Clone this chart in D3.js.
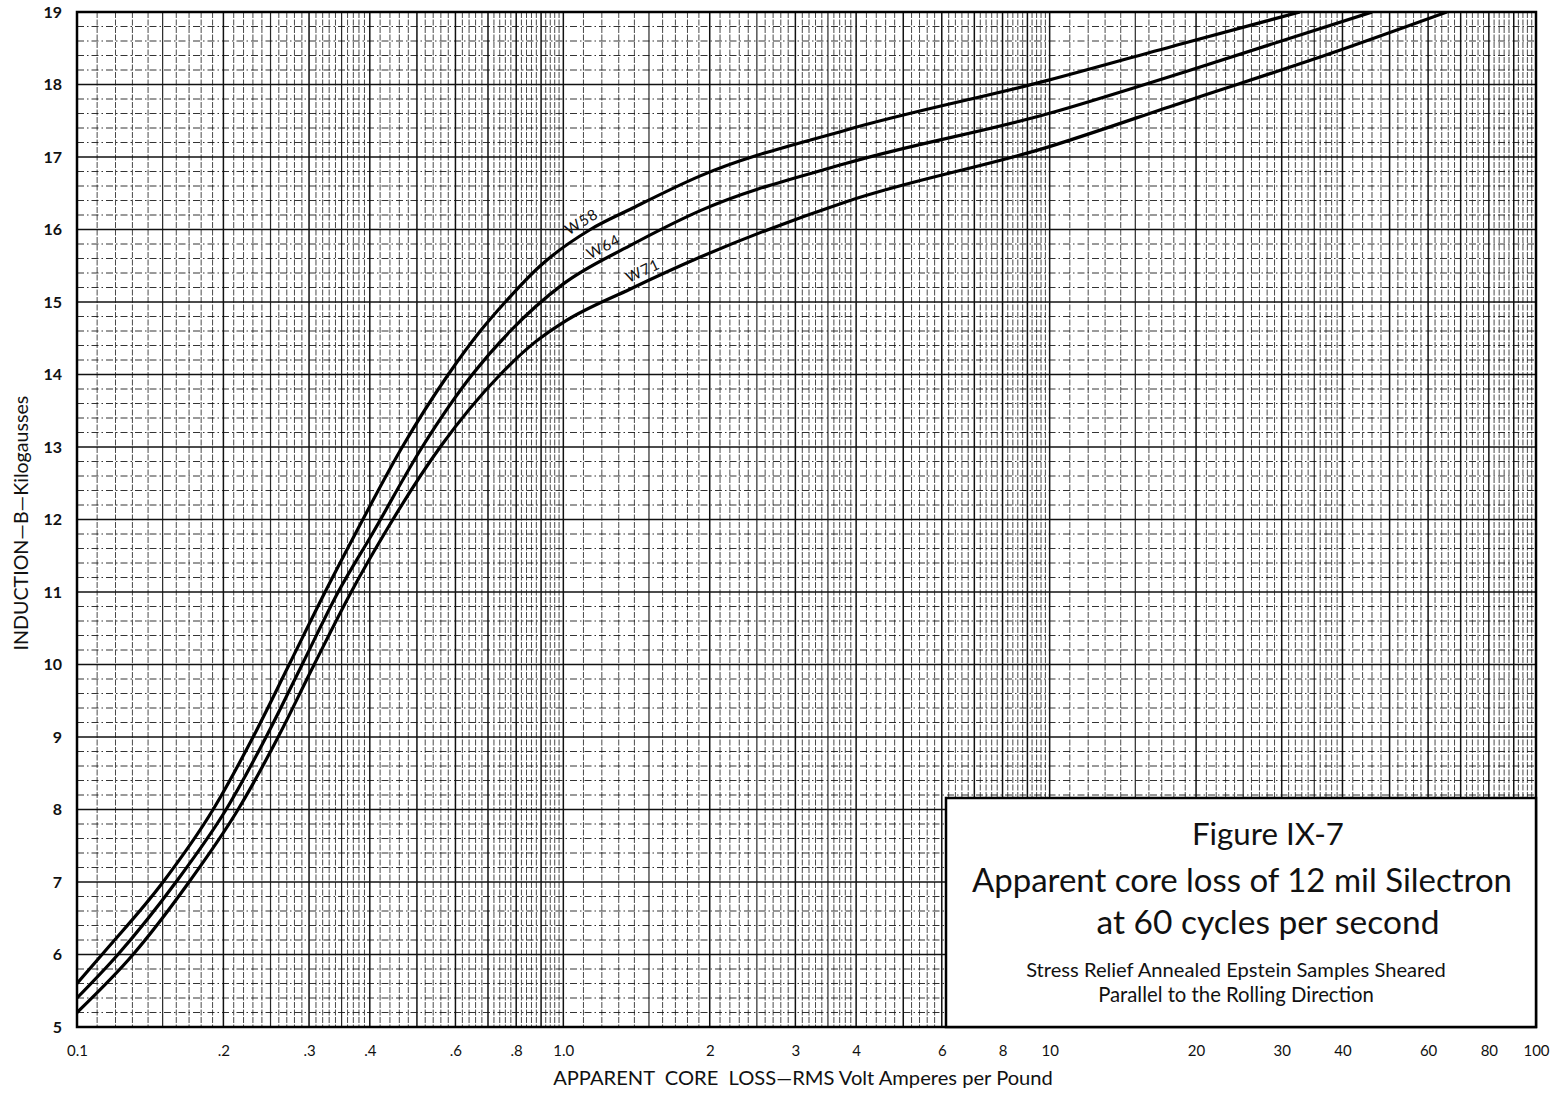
<!DOCTYPE html>
<html>
<head>
<meta charset="utf-8">
<script src="https://cdn.jsdelivr.net/npm/d3@7"></script>
<style>
  body { margin: 0; background: #fff; }
  svg text { font-family: Lato, "Open Sans", "DejaVu Sans", sans-serif; fill: #111; }
</style>
</head>
<body>
<svg id="chart" width="1564" height="1094"></svg>
<script>

// tick labels
var xTickValues = [0.1, 0.2, 0.3, 0.4, 0.6, 0.8, 1, 2, 3, 4, 6, 8, 10, 20, 30, 40, 60, 80, 100];
var xTickLabels = ['0.1', '.2', '.3', '.4', '.6', '.8', '1.0', '2', '3', '4', '6', '8', '10', '20', '30', '40', '60', '80', '100'];
var yTickValues = [5, 6, 7, 8, 9, 10, 11, 12, 13, 14, 15, 16, 17, 18, 19];

// curves: apparent core loss (VA/lb) against induction (kG)
var curveNames = ['W58', 'W64', 'W71'];
var lossW58 = [0.1, 0.1126, 0.1503, 0.1905, 0.2302, 0.2731, 0.3237, 0.3733, 0.4665, 0.58, 0.675, 0.7598, 0.8969, 1.1365, 1.3737, 1.913, 3.804, 9.95, 18.87, 32.7];
var inductionW58 = [5.6, 6.0, 7.0, 8.0, 9.0, 10.0, 11.0, 11.8, 13.0, 14.0, 14.6, 15.0, 15.5, 16.0, 16.28, 16.74, 17.37, 18.06, 18.57, 19.0];
var lossW64 = [0.1, 0.1214, 0.1598, 0.2026, 0.2448, 0.2904, 0.3444, 0.4046, 0.5127, 0.6499, 0.778, 1.0, 1.3737, 1.913, 3.804, 9.95, 18.87, 46.0];
var inductionW64 = [5.4, 6.0, 7.0, 8.0, 9.0, 10.0, 11.0, 11.8, 13.0, 14.0, 14.6, 15.25, 15.78, 16.26, 16.91, 17.6, 18.17, 19.0];
var lossW71 = [0.1, 0.1304, 0.17, 0.2144, 0.2592, 0.3074, 0.3663, 0.4282, 0.5583, 0.7419, 0.8758, 1.0, 1.3737, 1.913, 3.804, 9.95, 18.87, 37.5, 65.6];
var inductionW71 = [5.2, 6.0, 7.0, 8.0, 9.0, 10.0, 11.0, 11.8, 13.0, 14.0, 14.45, 14.72, 15.18, 15.62, 16.38, 17.14, 17.76, 18.42, 19.0];

// where along each curve its name is written
var labelLoss = [1.12, 1.24, 1.49];

var svg = d3.select('#chart');

var margin = { left: 77, right: 28, top: 12, bottom: 67 },
    width = 1564,
    height = 1094;

var x = d3.scaleLog()
  .domain([0.1, 100])
  .range([margin.left, width - margin.right]);

var y = d3.scaleLinear()
  .domain([5, 19])
  .range([height - margin.bottom, margin.top]);

svg.append('rect')
  .attr('width', width)
  .attr('height', height)
  .attr('fill', '#fff');

svg.append('clipPath')
  .attr('id', 'plot-clip')
  .append('rect')
  .attr('x', x(0.1))
  .attr('y', y(19))
  .attr('width', x(100) - x(0.1))
  .attr('height', y(5) - y(19));

// log paper: 1-4 in tenths, 4-10 in fifths, every decade
var gridX = [];
[0.1, 1, 10].forEach(function(dec) {
  d3.range(10, 40).concat(d3.range(40, 100, 2)).forEach(function(m) {
    gridX.push({ v: dec * m / 10, major: m % 10 === 0, half: m % 5 === 0 });
  });
});

var gridY = d3.range(50, 191, 2).map(function(k) {
  return { v: k / 10, major: k % 10 === 0 };
});

var grid = svg.append('g').attr('class', 'grid');

grid.selectAll('line.gx')
  .data(gridX)
  .enter().append('line')
  .attr('class', 'gx')
  .attr('x1', function(d) { return x(d.v); })
  .attr('x2', function(d) { return x(d.v); })
  .attr('y1', y(19))
  .attr('y2', y(5))
  .attr('stroke', '#111')
  .attr('stroke-opacity', function(d) { return d.major ? 1 : (d.half ? 0.9 : 0.8); })
  .attr('stroke-width', function(d) { return d.major ? 1.5 : (d.half ? 1.2 : 0.95); })
  .attr('stroke-dasharray', function(d) { return d.major || d.half ? null : '6,1.5'; });

grid.selectAll('line.gy')
  .data(gridY)
  .enter().append('line')
  .attr('class', 'gy')
  .attr('x1', x(0.1))
  .attr('x2', x(100))
  .attr('y1', function(d) { return y(d.v); })
  .attr('y2', function(d) { return y(d.v); })
  .attr('stroke', '#111')
  .attr('stroke-opacity', function(d) { return d.major ? 1 : 0.85; })
  .attr('stroke-width', function(d) { return d.major ? 1.5 : 1; })
  .attr('stroke-dasharray', function(d) { return d.major ? null : '7,3,1.5,3'; });

// curves
var series = [
  { name: curveNames[0], loss: lossW58, induction: inductionW58, at: labelLoss[0] },
  { name: curveNames[1], loss: lossW64, induction: inductionW64, at: labelLoss[1] },
  { name: curveNames[2], loss: lossW71, induction: inductionW71, at: labelLoss[2] }
];

var line = d3.line()
  .x(function(d) { return x(d[0]); })
  .y(function(d) { return y(d[1]); })
  .curve(d3.curveMonotoneX);

var curves = svg.append('g')
  .attr('clip-path', 'url(#plot-clip)');

var paths = curves.selectAll('path')
  .data(series)
  .enter().append('path')
  .attr('d', function(s) { return line(d3.zip(s.loss, s.induction)); })
  .attr('fill', 'none')
  .attr('stroke', '#000')
  .attr('stroke-width', 3.2)
  .attr('stroke-linejoin', 'round');

// curve names, sitting on the curve and turned along it
paths.each(function(s) {
  var node = this,
      total = node.getTotalLength(),
      target = x(s.at),
      lo = 0,
      hi = total;
  for (var i = 0; i < 30; i++) {
    var mid = (lo + hi) / 2;
    if (node.getPointAtLength(mid).x < target) lo = mid; else hi = mid;
  }
  var p = node.getPointAtLength(lo),
      a = node.getPointAtLength(Math.max(0, lo - 8)),
      b = node.getPointAtLength(Math.min(total, lo + 8)),
      angle = Math.atan2(b.y - a.y, b.x - a.x) * 180 / Math.PI;
  svg.append('text')
    .attr('transform', 'translate(' + p.x + ',' + p.y + ') rotate(' + angle + ')')
    .attr('y', -6)
    .attr('text-anchor', 'middle')
    .style('font-size', '15px')
    .style('letter-spacing', '1px')
    .text(s.name);
});

// frame
svg.append('rect')
  .attr('x', x(0.1))
  .attr('y', y(19))
  .attr('width', x(100) - x(0.1))
  .attr('height', y(5) - y(19))
  .attr('fill', 'none')
  .attr('stroke', '#000')
  .attr('stroke-width', 2.5);

// axes
var xAxis = d3.axisBottom(x)
  .tickValues(xTickValues)
  .tickFormat(function(d, i) { return xTickLabels[i]; })
  .tickSize(0)
  .tickPadding(18);

svg.append('g')
  .attr('transform', 'translate(0,' + y(5) + ')')
  .call(xAxis)
  .call(function(g) { g.select('.domain').remove(); })
  .selectAll('text')
  .style('font-size', '15px')
  .style('font-family', 'Lato, sans-serif')
  .attr('fill', '#111');

var yAxis = d3.axisLeft(y)
  .tickValues(yTickValues)
  .tickSize(0)
  .tickPadding(15);

svg.append('g')
  .attr('transform', 'translate(' + x(0.1) + ',0)')
  .call(yAxis)
  .call(function(g) { g.select('.domain').remove(); })
  .selectAll('text')
  .style('font-size', '16px')
  .style('font-weight', '700')
  .style('font-family', 'Lato, sans-serif')
  .attr('fill', '#111');

// scale a text's font so its run matches a given width
function fit(sel, w) {
  var fs = parseFloat(sel.style('font-size'));
  var len = sel.node().getComputedTextLength();
  sel.style('font-size', (fs * w / len).toFixed(2) + 'px');
  return sel;
}

fit(svg.append('text')
  .attr('x', 803)
  .attr('y', 1085)
  .attr('text-anchor', 'middle')
  .style('font-size', '15px')
  .style('white-space', 'pre')
  .text('APPARENT  CORE  LOSS\u2014RMS Volt Amperes per Pound'), 500);

fit(svg.append('text')
  .attr('transform', 'translate(28,523) rotate(-90)')
  .attr('text-anchor', 'middle')
  .style('font-size', '14px')
  .text('INDUCTION\u2014B\u2014Kilogausses'), 255);

// caption box
var box = svg.append('g');

box.append('rect')
  .attr('x', 946)
  .attr('y', 798)
  .attr('width', x(100) - 946)
  .attr('height', y(5) - 798)
  .attr('fill', '#fff')
  .attr('stroke', '#000')
  .attr('stroke-width', 2.5);

var caption = [
  { text: 'Figure IX-7', cx: 1268, base: 845, size: 28, w: 152 },
  { text: 'Apparent core loss of 12 mil Silectron', cx: 1242, base: 892, size: 28, w: 540 },
  { text: 'at 60 cycles per second', cx: 1268, base: 934, size: 28, w: 343 },
  { text: 'Stress Relief Annealed Epstein Samples Sheared', cx: 1236, base: 977, size: 16, w: 420 },
  { text: 'Parallel to the Rolling Direction', cx: 1236, base: 1002, size: 16, w: 276 }
];

caption.forEach(function(c) {
  fit(box.append('text')
    .attr('x', c.cx)
    .attr('y', c.base)
    .attr('text-anchor', 'middle')
    .style('font-size', c.size + 'px')
    .text(c.text), c.w);
});

</script>
</body>
</html>
